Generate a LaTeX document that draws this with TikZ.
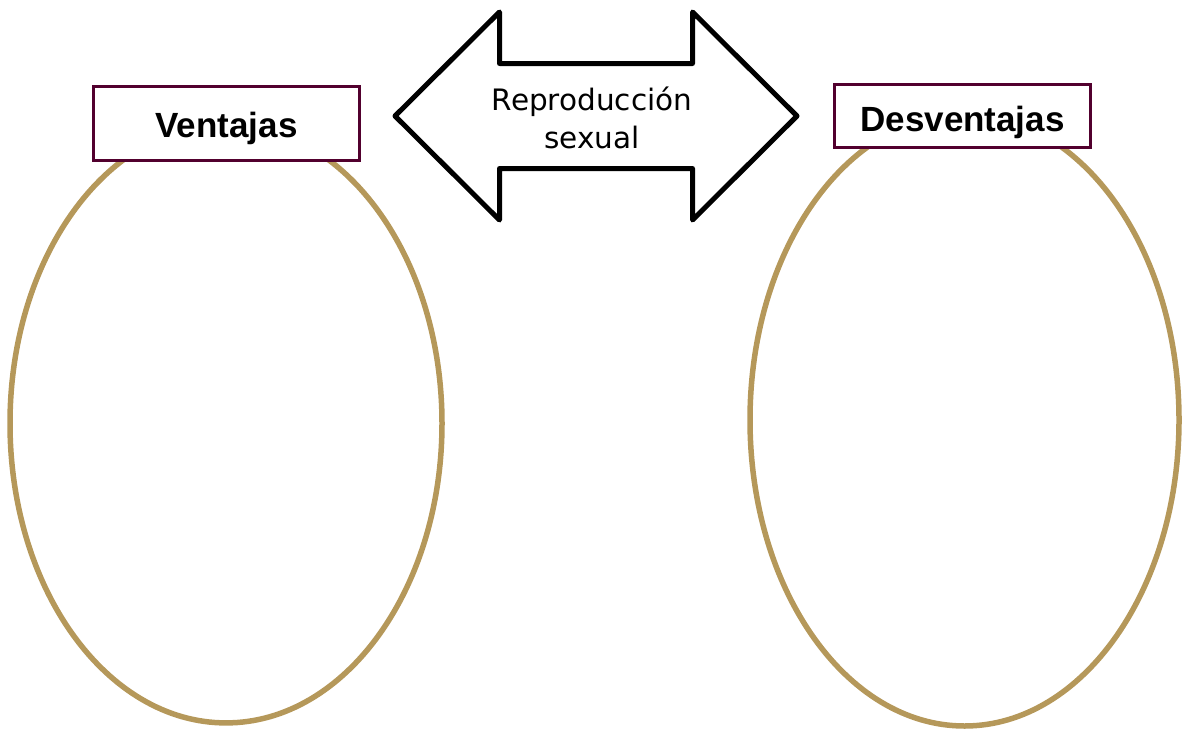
\documentclass[tikz,border=0pt]{standalone}
\usepackage{fontspec}
\usetikzlibrary{shapes.geometric}
\newfontfamily\boxfont{Liberation Sans}
\newfontfamily\arrowfont{DejaVu Sans}
\definecolor{tan}{RGB}{181,152,90}
\definecolor{maroon}{RGB}{82,0,46}
\tikzset{
  oval/.style={ellipse, draw=tan, line width=5.5pt, inner sep=0pt, outer sep=0pt},
  titlebox/.style={rectangle, draw=maroon, line width=3.5pt, fill=white, inner sep=0pt,
    font=\boxfont\bfseries\fontsize{35}{40}\selectfont, text depth=0pt},
  arrowshape/.style={draw=black, line width=5pt, line join=round, fill=white},
  arrowtext/.style={font=\arrowfont\fontsize{29.5}{38}\selectfont, align=center, inner sep=0pt}
}
\begin{document}
\begin{tikzpicture}[x=1pt,y=-1pt]
\useasboundingbox (0,0) rectangle (1182,731);
\node[oval, minimum width=432pt, minimum height=599pt] (left) at (226,423.4) {};
\node[oval, minimum width=429pt, minimum height=612pt] (right) at (964.5,420) {};
\node[titlebox, minimum width=266pt, minimum height=74pt, text height=28.4pt] (vent) at (226.5,123.5) {Ventajas};
\node[titlebox, minimum width=256pt, minimum height=63pt, text height=31.4pt] (desv) at (962.5,116) {Desventajas};
\draw[arrowshape] (395,116) -- (499.5,12) -- (499.5,63.5) -- (692.5,63.5) -- (692.5,12)
  -- (797,116) -- (692.5,220) -- (692.5,168.5) -- (499.5,168.5) -- (499.5,220) -- cycle;
\node[arrowtext, anchor=base] (title) at (592,148) {Reproducción\\sexual};
\end{tikzpicture}
\end{document}
